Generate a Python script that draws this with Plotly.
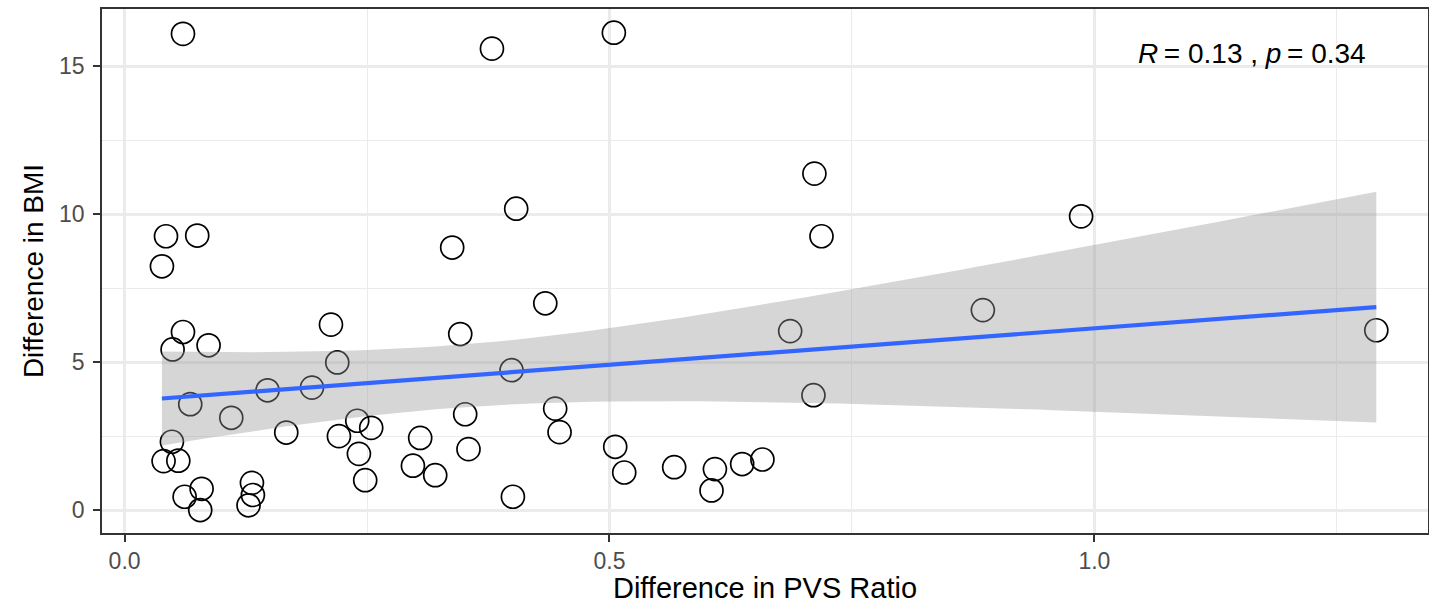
import numpy as np
import plotly.graph_objects as go

# Difference in PVS Ratio (x) and Difference in BMI (y)
pvs_diff = [0.0602, 0.3788, 0.5045, 0.7113, 0.7186, 0.4038, 0.9863, 0.0427, 0.0749, 0.0385,
            0.3378, 0.4338, 0.8850, 1.2907, 0.6863, 0.7103, 0.2128, 0.2193, 0.0602, 0.0495,
            0.0866, 0.3461, 0.3990, 0.0677, 0.1100, 0.1474, 0.1932, 0.1667, 0.2210, 0.2399,
            0.2543, 0.2416, 0.2481, 0.2973, 0.3048, 0.3203, 0.3512, 0.3546, 0.4440, 0.4485,
            0.4004, 0.5059, 0.5152, 0.5667, 0.6087, 0.6052, 0.6368, 0.6577, 0.0402, 0.0554,
            0.0488, 0.0619, 0.0794, 0.0780, 0.1313, 0.1323, 0.1278]
bmi_diff = [16.10, 15.60, 16.14, 11.375, 9.257, 10.19, 9.93, 9.257, 9.28, 8.24,
            8.875, 6.99, 6.76, 6.08, 6.05, 3.885, 6.27, 4.99, 6.02, 5.43,
            5.57, 5.95, 4.73, 3.58, 3.12, 4.05, 4.14, 2.62, 2.50, 3.02,
            2.78, 1.90, 1.01, 1.50, 2.44, 1.18, 3.24, 2.06, 3.43, 2.635,
            0.45, 2.14, 1.27, 1.45, 1.385, 0.665, 1.555, 1.71, 1.655, 1.67,
            2.31, 0.45, 0.72, 0.00, 0.92, 0.51, 0.16]

x_ticks = [0.0, 0.5, 1.0]
x_tick_labels = ["0.0", "0.5", "1.0"]
y_ticks = [0, 5, 10, 15]
y_tick_labels = ["0", "5", "10", "15"]
stat_label = "<i>R</i>\u2009= 0.13 , <i>p</i>\u2009= 0.34"

# linear fit with 95% confidence band (as geom_smooth(method="lm"))
x = np.array(pvs_diff)
y = np.array(bmi_diff)
n = len(x)
b1, b0 = np.polyfit(x, y, 1)
resid = y - (b0 + b1 * x)
s = np.sqrt(np.sum(resid ** 2) / (n - 2))
sxx = np.sum((x - x.mean()) ** 2)
t_crit = 2.004  # t(0.975, df=55)
xs = np.linspace(x.min(), x.max(), 80)
fit = b0 + b1 * xs
se = s * np.sqrt(1.0 / n + (xs - x.mean()) ** 2 / sxx)
upper = fit + t_crit * se
lower = fit - t_crit * se

font_family = "Liberation Sans, Arial, Helvetica, sans-serif"

fig = go.Figure()
fig.add_trace(go.Scatter(
    x=pvs_diff, y=bmi_diff, mode="markers",
    marker=dict(symbol="circle", size=23, color="rgba(0,0,0,0)",
                line=dict(color="black", width=1.7)),
    showlegend=False, hoverinfo="x+y"))
fig.add_trace(go.Scatter(
    x=np.concatenate([xs, xs[::-1]]), y=np.concatenate([upper, lower[::-1]]),
    fill="toself", fillcolor="rgba(153,153,153,0.4)", line=dict(width=0),
    mode="lines", showlegend=False, hoverinfo="skip"))
fig.add_trace(go.Scatter(
    x=xs, y=fit, mode="lines", line=dict(color="#3366FF", width=4.2),
    showlegend=False))

fig.add_annotation(x=1.163, y=15.45, xref="x", yref="y", text=stat_label,
                   showarrow=False, xanchor="center", yanchor="middle",
                   font=dict(family=font_family, size=28, color="black"))

axis_common = dict(
    showline=True, mirror=True, linecolor="#333333", linewidth=1.7,
    ticks="outside", ticklen=7, tickwidth=1.7, tickcolor="#333333",
    showgrid=True, gridcolor="#EBEBEB", gridwidth=2.6,
    zeroline=False,
    tickfont=dict(family=font_family, size=23, color="#4D4D4D"),
)

fig.update_xaxes(
    range=[-0.0233, 1.344], tickvals=x_ticks, ticktext=x_tick_labels,
    minor=dict(tickvals=[0.25, 0.75, 1.25], showgrid=True, gridcolor="#EBEBEB",
               gridwidth=1.3, ticks=""),
    title=dict(text="Difference in PVS Ratio", standoff=2,
               font=dict(family=font_family, size=29, color="black")),
    **axis_common)
fig.update_yaxes(
    range=[-0.775, 16.94], tickvals=y_ticks, ticktext=y_tick_labels,
    ticklabelstandoff=4,
    minor=dict(tickvals=[2.5, 7.5, 12.5], showgrid=True, gridcolor="#EBEBEB",
               gridwidth=1.3, ticks=""),
    title=dict(text="Difference in BMI", standoff=7,
               font=dict(family=font_family, size=28, color="black")),
    **axis_common)

fig.update_layout(
    width=1429, height=604,
    margin=dict(l=102, r=1, t=9, b=71, autoexpand=False),
    plot_bgcolor="white", paper_bgcolor="white",
    font=dict(family=font_family),
)

fig.write_html("out.html", config={"displayModeBar": False},
               post_script="document.body.style.margin='0';document.body.style.overflow='hidden';")
